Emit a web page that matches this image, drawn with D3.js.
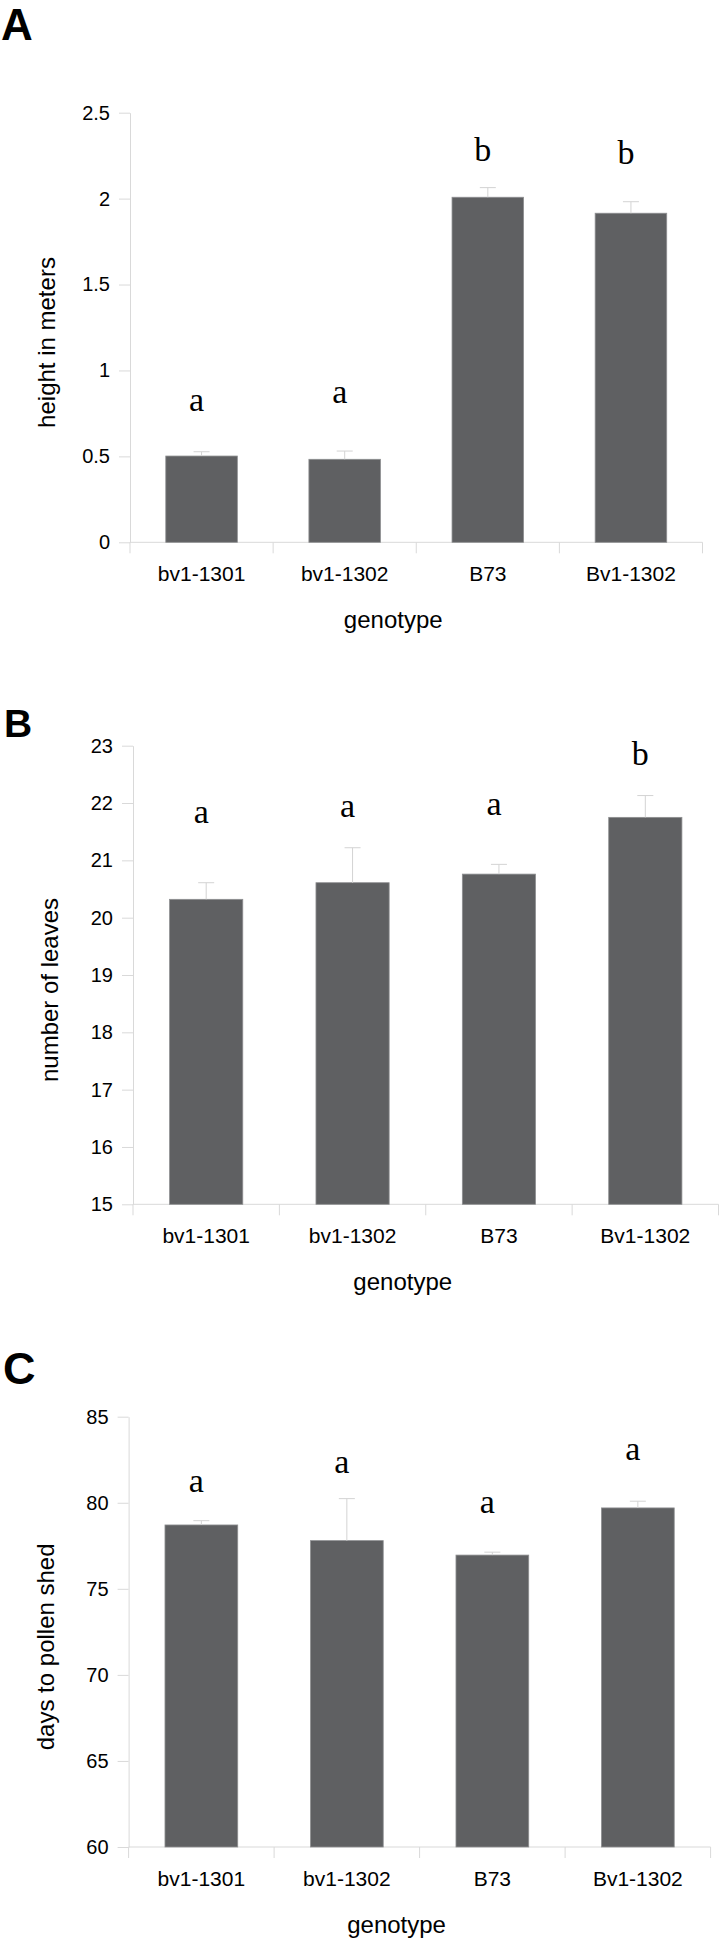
<!DOCTYPE html>
<html>
<head>
<meta charset="utf-8">
<script src="https://cdn.jsdelivr.net/npm/d3@7"></script>
<style>
  body { margin: 0; background: #fff; }
  svg { display: block; }
</style>
</head>
<body>
<script>
// genotypes shared by all three panels
const genotypes = ["bv1-1301", "bv1-1302", "B73", "Bv1-1302"];

// A: plant height
const heightMeans = [0.502, 0.483, 2.008, 1.915];
const heightErr = [0.025, 0.048, 0.056, 0.067];
const heightLetters = ["a", "a", "b", "b"];
const heightLetterY = [0.766, 0.809, 2.219, 2.2];
const heightTicks = [0, 0.5, 1, 1.5, 2, 2.5];

// B: leaf number
const leafMeans = [20.32, 20.61, 20.76, 21.75];
const leafErr = [0.29, 0.61, 0.17, 0.38];
const leafLetters = ["a", "a", "a", "b"];
const leafLetterY = [21.66, 21.75, 21.79, 22.66];
const leafTicks = [15, 16, 17, 18, 19, 20, 21, 22, 23];

// C: days to pollen shed
const pollenMeans = [78.71, 77.80, 76.96, 79.70];
const pollenErr = [0.25, 2.44, 0.17, 0.39];
const pollenLetters = ["a", "a", "a", "a"];
const pollenLetterY = [80.63, 81.70, 79.43, 82.5];
const pollenTicks = [60, 65, 70, 75, 80, 85];

const W = 720, H = 1942;
const sans = "'Liberation Sans', Arial, sans-serif";
const serif = "'Liberation Serif', 'Times New Roman', serif";
const gridGray = "#d9d9d9";
const barFill = "#5f6062";

const svg = d3.select("body").append("svg")
    .attr("width", W)
    .attr("height", H);

function panel(opt) {
    const g = svg.append("g");

    const x = d3.scaleBand()
        .domain(genotypes)
        .range([opt.left, opt.right])
        .paddingInner(0.5)
        .paddingOuter(0.25);
    const y = d3.scaleLinear()
        .domain([opt.ticks[0], opt.ticks[opt.ticks.length - 1]])
        .range([opt.bottom, opt.top]);

    // panel letter
    g.append("text")
        .attr("x", opt.tagX).attr("y", opt.tagY)
        .attr("font-family", sans).attr("font-weight", "bold")
        .attr("font-size", opt.tagSize)
        .text(opt.tag);

    // y axis
    const ya = g.append("g")
        .attr("transform", `translate(${opt.left},0)`)
        .call(d3.axisLeft(y).tickValues(opt.ticks).tickSize(11).tickSizeOuter(0).tickPadding(9)
            .tickFormat(d3.format("~g")));
    ya.select(".domain").attr("stroke", gridGray);
    ya.selectAll(".tick line").attr("stroke", gridGray);
    ya.selectAll("text").attr("font-family", sans).attr("font-size", 20).attr("fill", "#000");

    // x axis baseline and category dividers
    g.append("line")
        .attr("x1", opt.left).attr("x2", opt.right)
        .attr("y1", opt.bottom).attr("y2", opt.bottom)
        .attr("stroke", gridGray);
    const step = x.step();
    g.selectAll(".divider")
        .data(d3.range(genotypes.length + 1))
        .enter().append("line")
        .attr("x1", i => opt.left + i * step)
        .attr("x2", i => opt.left + i * step)
        .attr("y1", opt.bottom)
        .attr("y2", opt.bottom + 11)
        .attr("stroke", gridGray);

    const xa = g.append("g")
        .attr("transform", `translate(0,${opt.bottom})`)
        .call(d3.axisBottom(x).tickSize(0).tickPadding(24));
    xa.select(".domain").remove();
    xa.selectAll("text").attr("font-family", sans).attr("font-size", 21).attr("fill", "#000");

    // bars
    g.selectAll(".bar")
        .data(genotypes)
        .enter().append("rect")
        .attr("x", d => x(d))
        .attr("width", x.bandwidth())
        .attr("y", (d, i) => y(opt.means[i]))
        .attr("height", (d, i) => opt.bottom - y(opt.means[i]))
        .attr("fill", barFill)
        .attr("stroke", "#8e8f91")
        .attr("stroke-width", 0.8);

    // upper error bars
    const eb = g.selectAll(".err")
        .data(genotypes)
        .enter().append("g")
        .attr("stroke", "#d3d3d3")
        .attr("stroke-width", 1);
    eb.append("line")
        .attr("x1", d => x(d) + x.bandwidth() / 2)
        .attr("x2", d => x(d) + x.bandwidth() / 2)
        .attr("y1", (d, i) => y(opt.means[i]))
        .attr("y2", (d, i) => y(opt.means[i] + opt.err[i]));
    eb.append("line")
        .attr("x1", d => x(d) + x.bandwidth() / 2 - 8)
        .attr("x2", d => x(d) + x.bandwidth() / 2 + 8)
        .attr("y1", (d, i) => y(opt.means[i] + opt.err[i]))
        .attr("y2", (d, i) => y(opt.means[i] + opt.err[i]));

    // significance letters
    g.selectAll(".sig")
        .data(genotypes)
        .enter().append("text")
        .attr("x", d => x(d) + x.bandwidth() / 2 - 5)
        .attr("y", (d, i) => y(opt.letterY[i]))
        .attr("text-anchor", "middle")
        .attr("font-family", serif)
        .attr("font-size", 34)
        .text((d, i) => opt.letters[i]);

    // axis titles
    g.append("text")
        .attr("transform", `translate(${opt.left - 75},${(opt.top + opt.bottom) / 2 + 15}) rotate(-90)`)
        .attr("text-anchor", "middle")
        .attr("font-family", sans).attr("font-size", 24)
        .text(opt.yTitle);
    g.append("text")
        .attr("x", (opt.left + opt.right) / 2 - 23)
        .attr("y", opt.bottom + 86)
        .attr("text-anchor", "middle")
        .attr("font-family", sans).attr("font-size", 24)
        .text("genotype");
}

panel({
    tag: "A", tagX: 1, tagY: 40, tagSize: 44,
    left: 130, right: 702.5, top: 112.7, bottom: 542.3,
    ticks: heightTicks, means: heightMeans, err: heightErr,
    letters: heightLetters, letterY: heightLetterY,
    yTitle: "height in meters"
});

panel({
    tag: "B", tagX: 4, tagY: 737, tagSize: 39,
    left: 133, right: 718.5, top: 745.7, bottom: 1204.3,
    ticks: leafTicks, means: leafMeans, err: leafErr,
    letters: leafLetters, letterY: leafLetterY,
    yTitle: "number of leaves"
});

panel({
    tag: "C", tagX: 3, tagY: 1384, tagSize: 45,
    left: 128.6, right: 710.6, top: 1416.7, bottom: 1847,
    ticks: pollenTicks, means: pollenMeans, err: pollenErr,
    letters: pollenLetters, letterY: pollenLetterY,
    yTitle: "days to pollen shed"
});
</script>
</body>
</html>
